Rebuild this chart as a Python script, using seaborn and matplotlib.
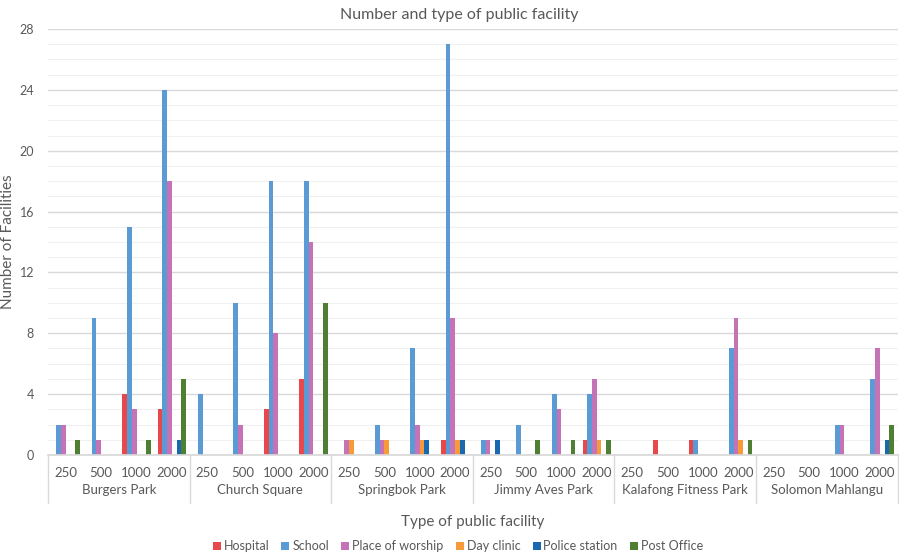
import matplotlib
matplotlib.use("Agg")
import matplotlib.pyplot as plt
import matplotlib.transforms as mtransforms
from matplotlib.lines import Line2D
import seaborn as sns
import pandas as pd
import numpy as np

parks = ["Burgers Park", "Church Square", "Springbok Park", "Jimmy Aves Park",
         "Kalafong Fitness Park", "Solomon Mahlangu"]
distances = ["250", "500", "1000", "2000"]
facilities = ["Hospital", "School", "Place of worship", "Day clinic", "Police station", "Post Office"]
colors = ["#E8474C", "#5B9BD5", "#C573B6", "#F79A3A", "#1A68B0", "#4E7F32"]

# values per park: rows = distances (250, 500, 1000, 2000), cols = facilities
burgers = [[0, 2, 2, 0, 0, 1],
           [0, 9, 1, 0, 0, 0],
           [4, 15, 3, 0, 0, 1],
           [3, 24, 18, 0, 1, 5]]
church = [[0, 4, 0, 0, 0, 0],
          [0, 10, 2, 0, 0, 0],
          [3, 18, 8, 0, 0, 0],
          [5, 18, 14, 0, 0, 10]]
springbok = [[0, 0, 1, 1, 0, 0],
             [0, 2, 1, 1, 0, 0],
             [0, 7, 2, 1, 1, 0],
             [1, 27, 9, 1, 1, 0]]
jimmy = [[0, 1, 1, 0, 1, 0],
         [0, 2, 0, 0, 0, 1],
         [0, 4, 3, 0, 0, 1],
         [1, 4, 5, 1, 0, 1]]
kalafong = [[0, 0, 0, 0, 0, 0],
            [1, 0, 0, 0, 0, 0],
            [1, 1, 0, 0, 0, 0],
            [0, 7, 9, 1, 0, 1]]
solomon = [[0, 0, 0, 0, 0, 0],
           [0, 0, 0, 0, 0, 0],
           [0, 2, 2, 0, 0, 0],
           [0, 5, 7, 0, 1, 2]]
park_values = [burgers, church, springbok, jimmy, kalafong, solomon]

rows = []
order = []
for p, vals in zip(parks, park_values):
    for d, row in zip(distances, vals):
        key = f"{p}|{d}"
        order.append(key)
        for f, v in zip(facilities, row):
            rows.append({"cat": key, "facility": f, "count": v})
df = pd.DataFrame(rows)

sns.set_theme(style="white")
plt.rcParams['font.family'] = ['Lato', 'DejaVu Sans']
text_color = "#595959"

fig = plt.figure(figsize=(8.99, 5.58), dpi=100)
ax = fig.add_axes([0.0534, 0.1846, 0.945, 0.7634])

sns.barplot(data=df, x="cat", y="count", hue="facility", order=order,
            hue_order=facilities, palette=colors, width=0.8, linewidth=0,
            saturation=1, ax=ax, legend=False)

ax.set_ylim(0, 28)
ax.set_xlim(-0.5, len(order) - 0.5)
ax.set_yticks(np.arange(0, 29, 4))
ax.set_yticks(np.arange(0, 29, 1), minor=True)
ax.grid(axis="y", which="major", color="#D9D9D9", linewidth=1.0)
ax.grid(axis="y", which="minor", color="#F0F0F0", linewidth=0.8)
ax.set_axisbelow(True)
for s in ["top", "right", "left"]:
    ax.spines[s].set_visible(False)
ax.spines["bottom"].set_color("#D9D9D9")
ax.tick_params(axis="y", which="both", length=0, labelsize=9, colors=text_color, pad=10)
ax.tick_params(axis="x", length=0, labelsize=9.5, colors=text_color, pad=9)
ax.set_xticks(range(len(order)))
ax.set_xticklabels([k.split("|")[1] for k in order])

trans = mtransforms.blended_transform_factory(ax.transData, ax.transAxes)
for i in range(len(parks) + 1):
    xpos = i * 4 - 0.5
    ax.plot([xpos, xpos], [0, -0.112], transform=trans, color="#D9D9D9",
            linewidth=1.0, clip_on=False)
for i, p in enumerate(parks):
    ax.text(i * 4 + 1.5, -0.083, p, transform=trans, ha="center", va="center",
            fontsize=9.5, color=text_color)

ax.set_xlabel("Type of public facility", fontsize=11, color=text_color)
ax.xaxis.set_label_coords(0.5, -0.14)
ax.set_ylabel("Number of Facilities", fontsize=11, color=text_color)
ax.yaxis.set_label_coords(-0.039, 0.5)
ax.set_title("Number and type of public facility", fontsize=11.5, color=text_color,
             pad=7, x=0.484)

handles = [Line2D([0], [0], marker="s", linestyle="", markersize=6,
                  markerfacecolor=c, markeredgewidth=0) for c in colors]
fig.legend(handles, facilities, loc="center", bbox_to_anchor=(0.508, 0.021),
           ncol=6, frameon=False, fontsize=9, handletextpad=0.05,
           columnspacing=0.8, labelcolor=text_color, handlelength=1.0)

fig.savefig("out.png", dpi=100)
